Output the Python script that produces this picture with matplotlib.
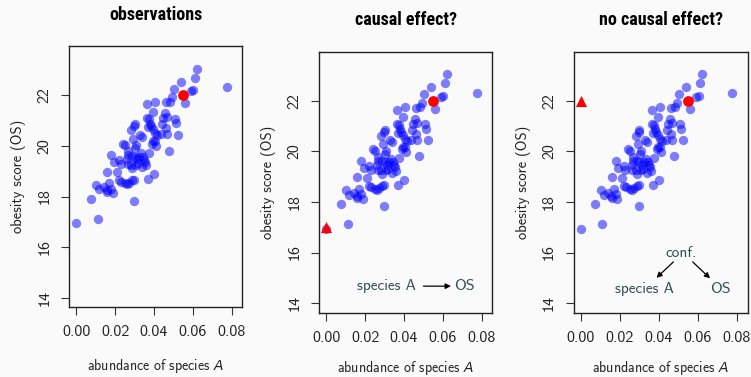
import numpy as np
import matplotlib
matplotlib.use("Agg")
import matplotlib.pyplot as plt
from matplotlib import font_manager

# abundance of species A / obesity score
abundance = [0.0000, 0.0110, 0.0074, 0.0103, 0.0117, 0.0141, 0.0156, 0.0168, 0.0179, 0.0187,
             0.0160, 0.0158, 0.0177, 0.0192, 0.0211, 0.0218, 0.0228, 0.0218, 0.0232, 0.0249,
             0.0261, 0.0273, 0.0287, 0.0299, 0.0297, 0.0242, 0.0252, 0.0268, 0.0266, 0.0259,
             0.0264, 0.0280, 0.0285, 0.0282, 0.0295, 0.0300, 0.0294, 0.0302, 0.0309, 0.0285,
             0.0300, 0.0314, 0.0319, 0.0306, 0.0330, 0.0336, 0.0324, 0.0335, 0.0342, 0.0349,
             0.0340, 0.0352, 0.0357, 0.0364, 0.0364, 0.0373, 0.0378, 0.0367, 0.0376, 0.0367,
             0.0395, 0.0383, 0.0395, 0.0397, 0.0390, 0.0407, 0.0403, 0.0410, 0.0400, 0.0417,
             0.0407, 0.0439, 0.0446, 0.0457, 0.0465, 0.0462, 0.0460, 0.0477, 0.0481, 0.0494,
             0.0505, 0.0508, 0.0512, 0.0525, 0.0537, 0.0560, 0.0591, 0.0603, 0.0611, 0.0620,
             0.0776, 0.0436, 0.0467]
obesity = [16.94, 17.12, 17.92, 18.46, 18.29, 18.36, 18.24, 18.52, 18.30, 18.13,
           18.17, 18.98, 19.64, 19.35, 18.96, 19.43, 19.27, 18.65, 18.59, 18.52,
           18.49, 18.55, 18.65, 18.67, 17.84, 20.09, 20.03, 19.78, 19.64, 19.47,
           19.27, 19.25, 19.12, 20.61, 20.77, 20.86, 20.28, 19.91, 20.03, 19.61,
           19.58, 19.48, 19.32, 19.25, 20.44, 20.36, 19.58, 19.72, 19.58, 19.45,
           19.16, 19.37, 19.24, 21.64, 21.10, 21.06, 20.88, 20.75, 19.73, 18.69,
           21.35, 20.77, 20.67, 20.18, 20.09, 20.51, 20.18, 19.98, 18.88, 20.42,
           21.75, 20.86, 21.10, 21.30, 21.14, 21.74, 20.71, 19.81, 21.75, 21.92,
           22.26, 21.08, 20.90, 20.44, 22.54, 21.70, 22.16, 22.20, 22.70, 23.06,
           22.33, 20.47, 20.46]

# highlighted observation and the intervention (abundance set to 0)
obs_point = (0.055, 22.0)
titles = ["observations", "causal effect?", "no causal effect?"]
intervention_os = [None, 17.0, 22.0]

x_ticks = [0.00, 0.02, 0.04, 0.06, 0.08]
y_ticks = [14, 16, 18, 20, 22]

# body text in Computer Modern Sans (ships with matplotlib), titles in a narrow bold sans
names = {f.name for f in font_manager.fontManager.ttflist}
body = "cmss10" if "cmss10" in names else "DejaVu Sans"
title_font = "DejaVu Sans"
for cand in ["Roboto Condensed", "Liberation Sans Narrow", "IBM Plex Sans Condensed"]:
    if cand in names:
        title_font = cand
        break
plt.rcParams["font.family"] = [body, "DejaVu Sans"]
plt.rcParams["mathtext.fontset"] = "custom"
plt.rcParams["mathtext.it"] = "DejaVu Sans:italic"
plt.rcParams["mathtext.rm"] = body

bg = "#fafafa"
note = "#2f4f4f"

fig = plt.figure(figsize=(7.51, 3.77), dpi=100, facecolor=bg)
positions = [[0.0923, 0.1849, 0.2304, 0.6931],
             [0.4252, 0.1706, 0.2304, 0.6923],
             [0.7643, 0.1706, 0.2313, 0.6923]]
xlabel_pads = [13, 10, 10]

arrow = dict(arrowstyle="-|>", color="black", lw=0.9, mutation_scale=8, shrinkA=0, shrinkB=0)

for i, pos in enumerate(positions):
    ax = fig.add_axes(pos, facecolor=bg)
    ax.scatter(abundance, obesity, s=45, color="blue", alpha=0.5, linewidths=0)
    ax.scatter([obs_point[0]], [obs_point[1]], s=60, color="red", linewidths=0, zorder=3)
    if intervention_os[i] is not None:
        ax.scatter([0.0], [intervention_os[i]], s=64, marker="^", color="red",
                   linewidths=0, zorder=3, clip_on=False)

    ax.set_xlim(-0.0036, 0.0855)
    ax.set_ylim(13.62, 23.95)
    ax.set_xticks(x_ticks)
    ax.set_xticklabels(["%.2f" % t for t in x_ticks])
    ax.set_yticks(y_ticks)
    ax.set_yticklabels([str(t) for t in y_ticks], rotation=90, va="center")
    ax.tick_params(length=6, width=0.8, color="#333333", labelsize=11.5,
                   labelcolor="#222222", pad=7)
    for s in ax.spines.values():
        s.set_linewidth(1.0)
        s.set_color("#222222")

    ax.set_xlabel(r"abundance of species $A$", fontsize=10, labelpad=xlabel_pads[i],
                  color="#222222")
    ax.set_ylabel("obesity score (OS)", fontsize=10.5, labelpad=8, color="#222222")
    ax.text(0.5, 1.12, titles[i], transform=ax.transAxes, ha="center", va="center",
            fontsize=13, fontweight="bold", family=title_font)

    if i == 1:
        ax.text(0.0311, 14.67, "species A", ha="center", va="center", fontsize=11, color=note)
        ax.text(0.071, 14.67, "OS", ha="center", va="center", fontsize=11.5, color=note)
        ax.annotate("", xy=(0.0642, 14.67), xytext=(0.050, 14.67), arrowprops=arrow)
    if i == 2:
        ax.text(0.0511, 16.0, "conf.", ha="center", va="center", fontsize=11, color=note)
        ax.text(0.0326, 14.57, "species A", ha="center", va="center", fontsize=11, color=note)
        ax.text(0.0715, 14.57, "OS", ha="center", va="center", fontsize=11.5, color=note)
        ax.annotate("", xy=(0.0387, 15.0), xytext=(0.0474, 15.63), arrowprops=arrow)
        ax.annotate("", xy=(0.0662, 14.98), xytext=(0.0573, 15.63), arrowprops=arrow)

fig.savefig("out.png", dpi=100, facecolor=bg)
